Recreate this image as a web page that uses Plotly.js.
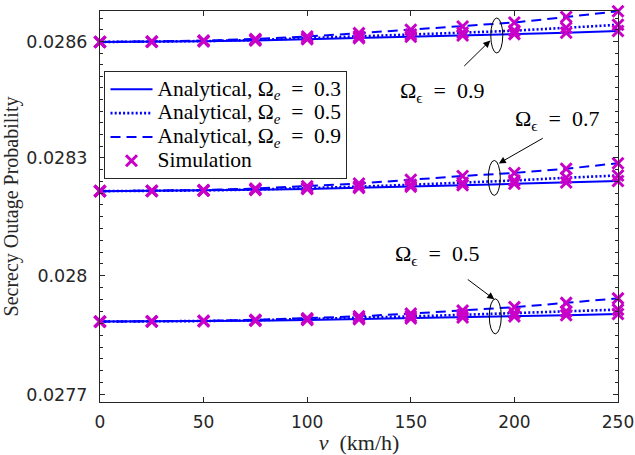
<!DOCTYPE html>
<html><head><meta charset="utf-8">
<script src="https://cdn.plot.ly/plotly-3.0.1.min.js"></script>
<style>html,body{margin:0;padding:0;background:#fff}#chart{width:635px;height:455px}</style>
</head><body><div id="chart"></div>
<script>
// speed v (km/h)
const speed = [0, 25, 50, 75, 100, 125, 150, 175, 200, 225, 250];

// Omega_eps = 0.9 group
const eps09_e03 = [0.0285987, 0.0285992, 0.0286005, 0.0286026, 0.0286057, 0.0286088, 0.0286122, 0.0286155, 0.0286189, 0.0286225, 0.0286272];
const eps09_e05 = [0.0285987, 0.0285992, 0.0286010, 0.0286039, 0.0286080, 0.0286129, 0.0286181, 0.0286228, 0.0286280, 0.0286355, 0.0286432];
const eps09_e09 = [0.0285987, 0.0285995, 0.0286021, 0.0286065, 0.0286129, 0.0286215, 0.0286303, 0.0286388, 0.0286492, 0.0286634, 0.0286782];

// Omega_eps = 0.7 group
const eps07_e03 = [0.0282152, 0.0282157, 0.0282167, 0.0282185, 0.0282208, 0.0282236, 0.0282267, 0.0282303, 0.0282341, 0.0282374, 0.0282413];
const eps07_e05 = [0.0282152, 0.0282157, 0.0282170, 0.0282193, 0.0282226, 0.0282267, 0.0282315, 0.0282367, 0.0282425, 0.0282494, 0.0282553];
const eps07_e09 = [0.0282152, 0.0282160, 0.0282180, 0.0282218, 0.0282277, 0.0282349, 0.0282443, 0.0282540, 0.0282617, 0.0282724, 0.0282867];

// Omega_eps = 0.5 group
const eps05_e03 = [0.0278840, 0.0278843, 0.0278850, 0.0278863, 0.0278880, 0.0278901, 0.0278921, 0.0278943, 0.0278971, 0.0279002, 0.0279034];
const eps05_e05 = [0.0278840, 0.0278845, 0.0278855, 0.0278875, 0.0278901, 0.0278933, 0.0278971, 0.0279012, 0.0279057, 0.0279100, 0.0279143];
const eps05_e09 = [0.0278840, 0.0278845, 0.0278860, 0.0278885, 0.0278923, 0.0278974, 0.0279042, 0.0279118, 0.0279206, 0.0279314, 0.0279428];

// simulation points (coincide with analytical curves)
const sim = [eps09_e03, eps09_e05, eps09_e09, eps07_e03, eps07_e05, eps07_e09, eps05_e03, eps05_e05, eps05_e09];

const yTickVals = [0.0277, 0.0280, 0.0283, 0.0286];
const yTickText = ['0.0277', '0.028', '0.0283', '0.0286'];
const xTickVals = [0, 50, 100, 150, 200, 250];

const BLUE = '#0000FF';
const MAG = '#C800C8';
const SERIF = 'Liberation Serif';
const SANS = 'DejaVu Sans';
const EN = '\u2002';
const sp = (size, html) => '<span style="font-family:Liberation Serif;font-size:' + size + 'px">' + html + '</span>';

const styles = [
  {label: 'Analytical, Ω<sub><i>e</i></sub>' + EN + '=' + EN + '0.3', dash: 'solid', width: 2},
  {label: 'Analytical, Ω<sub><i>e</i></sub>' + EN + '=' + EN + '0.5', dash: '2px,2.2px', width: 2.6},
  {label: 'Analytical, Ω<sub><i>e</i></sub>' + EN + '=' + EN + '0.9', dash: '10px,6px', width: 2}
];
const groups = [
  [eps09_e03, eps09_e05, eps09_e09],
  [eps07_e03, eps07_e05, eps07_e09],
  [eps05_e03, eps05_e05, eps05_e09]
];

const traces = [];
styles.forEach((s, i) => {
  groups.forEach((g, gi) => {
    traces.push({
      x: speed, y: g[i], type: 'scatter', mode: 'lines',
      line: {color: BLUE, width: s.width, dash: s.dash},
      name: sp(21.5, s.label),
      legendgroup: 'a' + i, showlegend: gi === 0, hoverinfo: 'skip'
    });
  });
});
sim.forEach((arr, k) => {
  traces.push({
    x: speed, y: arr, type: 'scatter', mode: 'markers', cliponaxis: false,
    marker: {symbol: 'x-thin-open', size: 11, color: MAG, line: {color: MAG, width: 3}},
    name: sp(21.5, 'Simulation'),
    legendgroup: 'sim', showlegend: k === 0, hoverinfo: 'skip'
  });
});

// layout helpers: pixel -> paper
const L = 99.5, R = 617.8, T = 10.5, B = 401.7;
const px = p => (p - L) / (R - L);
const py = p => (B - p) / (B - T);

function ellipse(cx, cy, rx, ry) {
  return {type: 'circle', xref: 'paper', yref: 'paper',
    x0: px(cx - rx), x1: px(cx + rx), y0: py(cy + ry), y1: py(cy - ry),
    line: {color: '#000', width: 1}};
}
function arrow(tx, ty, hx, hy) {
  return {xref: 'paper', yref: 'paper', x: px(hx), y: py(hy), ax: tx - hx, ay: ty - hy,
    axref: 'pixel', ayref: 'pixel', text: '', showarrow: true,
    arrowhead: 2, arrowsize: 1.4, arrowwidth: 1, arrowcolor: '#000'};
}
function label(cx, cy, txt) {
  return {xref: 'paper', yref: 'paper', x: px(cx), y: py(cy), text: sp(22, txt), showarrow: false,
    xanchor: 'center', yanchor: 'middle', font: {family: SERIF, size: 22, color: '#000'}};
}

const minorVals = [];
for (let k = 0; k <= 32; k++) minorVals.push(+(0.0277 + k * 0.00003).toFixed(6));

const layout = {
  width: 635, height: 455,
  margin: {l: L, r: 635 - R, t: T, b: 455 - B, autoexpand: false},
  paper_bgcolor: '#fff', plot_bgcolor: '#fff',
  showlegend: true,
  xaxis: {
    range: [0, 250], tickmode: 'array', tickvals: xTickVals,
    ticks: 'inside', ticklen: 5, tickcolor: '#262626', tickwidth: 1,
    showline: true, linecolor: '#262626', linewidth: 1, mirror: 'ticks',
    showgrid: false, zeroline: false, ticklabelstandoff: 5,
    tickfont: {family: SANS, size: 17, color: '#262626'},
    title: {text: sp(22, '<i>v</i>' + EN + '(km/h)'), font: {family: SERIF, size: 22, color: '#262626'}, standoff: 6}
  },
  yaxis: {
    type: 'log', range: [Math.log10(0.0276819), Math.log10(0.0286790)],
    tickmode: 'array', tickvals: yTickVals, ticktext: yTickText,
    ticks: 'inside', ticklen: 5, tickcolor: '#262626', tickwidth: 1,
    minor: {tickmode: 'array', tickvals: minorVals, ticks: 'inside', ticklen: 3, tickcolor: '#262626'},
    showline: true, linecolor: '#262626', linewidth: 1, mirror: 'ticks',
    showgrid: false, zeroline: false, ticklabelstandoff: 8,
    tickfont: {family: SANS, size: 17.5, color: '#262626'},
    title: {text: 'Secrecy Outage Probability', font: {family: SERIF, size: 20, color: '#262626'}, standoff: 2}
  },
  legend: {
    x: px(104), y: py(71), xanchor: 'left', yanchor: 'top',
    bgcolor: '#fff', bordercolor: '#262626', borderwidth: 1,
    font: {family: SERIF, size: 16, color: '#000'},
    itemwidth: 42, tracegroupgap: 0
  },
  shapes: [
    ellipse(496.5, 35, 6, 17.5),
    ellipse(494, 177.5, 6, 17.5),
    ellipse(495, 316, 6, 17.5)
  ],
  annotations: [
    arrow(462.5, 67, 490, 40),
    arrow(544, 137, 498.5, 163),
    arrow(466, 278, 494, 299),
    label(442, 92, 'Ω<sub>ϵ</sub>' + EN + '=' + EN + '0.9'),
    label(557, 120, 'Ω<sub>ϵ</sub>' + EN + '=' + EN + '0.7'),
    label(437, 255, 'Ω<sub>ϵ</sub>' + EN + '=' + EN + '0.5')
  ]
};

Plotly.newPlot('chart', traces, layout, {staticPlot: true, displayModeBar: false});
</script>
</body></html>
